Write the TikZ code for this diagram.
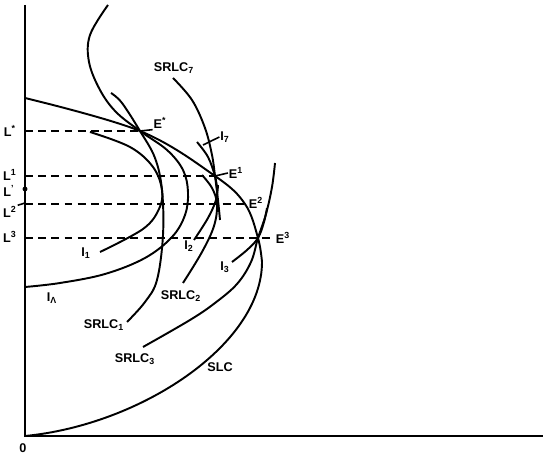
\documentclass[tikz,border=0pt]{standalone}
\usepackage{fontspec}
\setmainfont{Liberation Sans}
\usetikzlibrary{positioning}

\begin{document}
\begin{tikzpicture}[x=0.02cm,y=-0.02cm,line width=1.1pt,font=\fontsize{7.2}{8}\selectfont\bfseries]
	\tikzstyle{every node}=[inner sep=0pt,text=black]
	\tikzstyle{guide}=[line width=1pt,dash pattern=on 4.5pt off 3pt]
	\tikzstyle{curve}=[line width=1.1pt,draw=black]
	\useasboundingbox (0,0) rectangle (548,455);

	\coordinate (O)   at (25,436);
	\coordinate (top) at (25,5);
	\coordinate (end) at (543,436);
	\draw (top) -- (O) -- (end);
	\node (zero) at (23,448) {0};

	\coordinate (Es) at (140,131);
	\coordinate (E1) at (215,176);
	\coordinate (E2) at (245,204);
	\coordinate (E3) at (258,238);

	\node (Ls)  at (10,131) {L\textsuperscript{*}};
	\node (L1)  at (10,175) {L\textsuperscript{1}};
	\node (Ld)  at (9,191)  {L\textsuperscript{'}};
	\node (L2)  at (10,212) {L\textsuperscript{2}};
	\node (L3)  at (10,237) {L\textsuperscript{3}};
	\fill (25,189) circle (1.4pt);
	\draw[line width=0.9pt] (L2.north east) -- (25,203);

	\draw[guide] (25,131) -- (Es);
	\draw[guide] (25,176) -- (E1);
	\draw[guide] (25,204) -- (E2);
	\draw[guide] (25,238) -- (272,238);

	% long run curve
	\draw[curve] plot[smooth,tension=0.6] coordinates {(25,98) (Es) (E1) (E2) (E3) (262,262)}
		.. controls (262,345) and (140,425) .. (O);
	% indifference curves
	\draw[curve] plot[smooth,tension=0.6] coordinates {(108,5) (90,35) (89,62) (100,90) (116,112) (Es) (167,150) (183,170) (188,192) (185,215) (172,237) (145,258) (105,274) (60,283) (25,287)};
	\draw[curve] plot[smooth,tension=0.6] coordinates {(90,132) (130,147) (153,167) (162,190) (159,209) (143,229) (100,252)};
	\draw[curve] plot[smooth,tension=0.6] coordinates {(194,240) (208,218) (216,200) (218,185)};
	\draw[curve] plot[smooth,tension=0.6] coordinates {(197,142) (208,157) (E1) (217,188)};
	\draw[curve] plot[smooth,tension=0.6] coordinates {(232,262) (247,250) (E3) (264,222) (267,208)};
	% short run curves
	\draw[curve] plot[smooth,tension=0.6] coordinates {(111,93) (122,103) (Es) (155,158) (162,190) (163,235) (157,280) (145,302) (127,322)};
	\draw[curve] plot[smooth,tension=0.6] coordinates {(202,175) (212,188) (217,204) (214,226) (202,252) (183,283)};
	\draw[curve] plot[smooth,tension=0.6] coordinates {(173,78) (192,100) (205,128) (212,155) (E1) (218,200) (220,220)};
	\draw[curve] plot[smooth,tension=0.6] coordinates {(275,163) (272,187) (266,214) (E3) (251,262) (237,284) (215,303) (190,320) (143,347)};

	\node (lEs) at (160,123) {E\textsuperscript{*}};
	\node (lE1) at (236,173) {E\textsuperscript{1}};
	\node (lE2) at (256,203) {E\textsuperscript{2}};
	\node (lE3) at (283,238) {E\textsuperscript{3}};
	\draw[line width=0.9pt] (Es) -- (lEs.south west);
	\draw[line width=0.9pt] (E1) -- (lE1.west);

	\node (I7)   at (225,137) {I\textsubscript{7}};
	\draw[line width=0.9pt] (I7.west) -- (203,145);
	\node (Il)   at (52,298)  {I\textsubscript{Λ}};
	\node (I1)   at (86,253)  {I\textsubscript{1}};
	\node (I2)   at (189,246) {I\textsubscript{2}};
	\node (I3)   at (225,267) {I\textsubscript{3}};
	\node (S7)   at (174,68)  {SRLC\textsubscript{7}};
	\node (S1)   at (104,325) {SRLC\textsubscript{1}};
	\node (S2)   at (181,296) {SRLC\textsubscript{2}};
	\node (S3)   at (135,359) {SRLC\textsubscript{3}};
	\node (SLC)  at (220,367) {SLC};
\end{tikzpicture}
\end{document}
